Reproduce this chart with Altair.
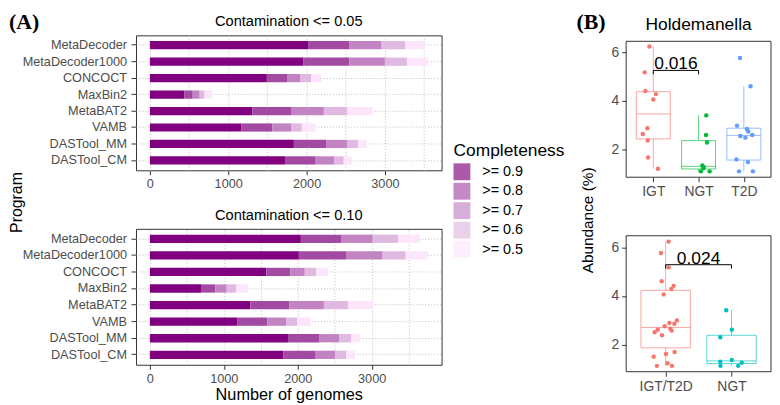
import json
import altair as alt
import pandas as pd

FONT = "Liberation Sans"
SERIF = "Liberation Serif"

# ---------------- Panel A data ----------------
programs = ["MetaDecoder", "MetaDecoder1000", "CONCOCT", "MaxBin2",
            "MetaBAT2", "VAMB", "DASTool_MM", "DASTool_CM"]
thresholds = [">= 0.9", ">= 0.8", ">= 0.7", ">= 0.6", ">= 0.5"]
threshold_colors = ["#800080", "#A24AA2", "#C283C2", "#DFB9DF", "#FCE6FC"]

# cumulative number of genomes with completeness >= threshold, contamination <= 0.05
c005_ge09 = [2019, 1956, 1493, 438, 1308, 1170, 1838, 1725]
c005_ge08 = [2549, 2545, 1759, 547, 1801, 1561, 2255, 2116]
c005_ge07 = [2957, 3000, 1923, 635, 2221, 1801, 2516, 2356]
c005_ge06 = [3260, 3281, 2057, 698, 2516, 1939, 2655, 2474]
c005_ge05 = [3517, 3546, 2188, 791, 2844, 2116, 2768, 2583]
# contamination <= 0.10
c010_ge09 = [2042, 2015, 1574, 691, 1360, 1186, 1868, 1806]
c010_ge08 = [2586, 2653, 1899, 887, 1886, 1587, 2296, 2243]
c010_ge07 = [3014, 3148, 2095, 1039, 2354, 1841, 2564, 2510]
c010_ge06 = [3357, 3460, 2251, 1164, 2679, 1993, 2724, 2653]
c010_ge05 = [3647, 3758, 2407, 1329, 3023, 2176, 2844, 2769]

panel_titles = ["Contamination <= 0.05", "Contamination <= 0.10"]
x_title = "Number of genomes"
y_title = "Program"
legend_title = "Completeness"
panel_tags = ["(A)", "(B)"]
x_ticks = [0, 500, 1000, 1500, 2000, 2500, 3000, 3500]

# ---------------- Panel B data ----------------
species = "Holdemanella"
abund_title = "Abundance (%)"
groups3 = ["IGT", "NGT", "T2D"]
colors3 = ["#F8766D", "#00BA38", "#619CFF"]
groups2 = ["IGT/T2D", "NGT"]
colors2 = ["#F8766D", "#00BFC4"]

igt_vals = [6.23, 5.17, 4.41, 4.28, 4.06, 2.88, 2.65, 2.38, 1.69, 1.23]
ngt_vals = [3.41, 2.61, 2.30, 1.36, 1.29, 1.25, 1.12, 1.12]
t2d_vals = [5.76, 4.60, 2.99, 2.85, 2.75, 2.57, 2.50, 2.61, 1.61, 1.50, 1.12, 1.12]

# horizontal jitter (fraction of category spacing)
igt_jit_top = [-0.087, -0.19, -0.175, 0.058, 0.0, -0.131, -0.233, -0.124, -0.116, 0.102]
ngt_jit_top = [0.17, 0.164, 0.186, 0.084, 0.113, 0.105, 0.244, 0.05]
t2d_jit_top = [-0.085, 0.148, -0.151, 0.068, 0.098, -0.076, 0.033, 0.186, -0.164, 0.09, -0.107, 0.199]
igt_jit_bot = [0.045, 0.045, 0.121, 0.086, -0.03, 0.056, 0.071, -0.056, 0.136, 0.03]
t2d_jit_bot = [-0.071, -0.061, 0.171, 0.132, -0.015, 0.091, -0.167, -0.121, 0.005, -0.182, -0.132, 0.095]
ngt_jit_bot = [-0.08, 0.005, -0.171, 0.005, -0.171, 0.156, -0.167, 0.101]

top_bracket = ["IGT", "NGT"]
top_bracket_y = [5.25, 5.09]
top_p = "0.016"
bot_bracket = ["IGT/T2D", "NGT"]
bot_bracket_y = [5.28, 5.12]
bot_p = "0.024"

top_ydomain = [0.88, 6.44]
bot_ydomain = [0.88, 6.47]

GRID = dict(gridColor="#BEBEBE", gridDash=[1, 2], gridWidth=1)
FRAME = "#333333"

A_W, A_H1, A_H2 = 308, 136, 137
B_W, B_H1, B_H2, B_OFF1, B_OFF2 = 146, 137, 137, 6, 7
ROW_GAP, COL_GAP = 52, 186
LEFT = -128     # left edge of the whole figure, relative to the plot area of panel A
TOP = -23.7     # top of the panel tags, relative to the plot area of panel A


def bar_rows(cums):
    rows = []
    for p_i, prog in enumerate(programs):
        prev = 0
        for t_i, thr in enumerate(thresholds):
            end = cums[t_i][p_i]
            rows.append({"program": prog, "thr": thr, "start": prev, "end": end})
            prev = end
    return pd.DataFrame(rows)


legend = alt.Legend(
    orient="none", legendX=320, legendY=108, title=legend_title,
    titleFontSize=17.5, titleFontWeight="normal", titleColor="black",
    titlePadding=3.5, labelFontSize=14.5, labelColor="black", labelOffset=12,
    symbolType="square", symbolSize=289, symbolStrokeWidth=0,
    rowPadding=2.6, padding=0, titleFont=FONT, labelFont=FONT,
)


def bar_panel(cums, title, first, height):
    df = bar_rows(cums)
    xmax = max(cums[-1])
    xs = alt.Scale(domain=[-0.05 * xmax, 1.05 * xmax], nice=False, zero=False)
    xkw = dict(
        values=x_ticks, format="d",
        labelExpr="datum.value % 1000 === 0 ? datum.label : ''",
        tickOpacity={"condition": {"test": "datum.value % 1000 !== 0", "value": 0}, "value": 1},
        grid=True, labelFontSize=12.8, tickSize=4.5, labelPadding=3, **GRID,
    )
    if first:
        xaxis = alt.Axis(title=None, **xkw)
    else:
        xaxis = alt.Axis(title=x_title, titleFontSize=16.4, titlePadding=2, **xkw)
    ykw = dict(grid=True, labelFontSize=12.8, tickSize=5, labelPadding=4.5, **GRID)
    if first:
        yaxis = alt.Axis(title=y_title, titleFontSize=16, titleX=LEFT + 16, titleY=168,
                         titleAngle=270, titleAlign="center", titleBaseline="bottom", **ykw)
    else:
        yaxis = alt.Axis(title=None, **ykw)
    return alt.Chart(df).mark_bar().encode(
        x=alt.X("start:Q", scale=xs, axis=xaxis),
        x2="end:Q",
        y=alt.Y("program:N", sort=programs,
                scale=alt.Scale(domain=programs, paddingInner=0.5, paddingOuter=0.35),
                axis=yaxis),
        color=alt.Color("thr:N", scale=alt.Scale(domain=thresholds, range=threshold_colors),
                        legend=legend),
    ).properties(
        width=A_W, height=height,
        title=alt.TitleParams(text=title, fontSize=14.7, anchor="middle", frame="group",
                              baseline="alphabetic", offset=0, dy=5.4, fontWeight="normal"),
    )


def box_panel(groups, colors, vals, jits, ydom, br_groups, br_y, br_label,
              height, top_off, title=None, ytitle=None, extra=None):
    n = len(groups)
    rows = []
    for i, (g, c) in enumerate(zip(groups, colors)):
        for v, j in zip(vals[i], jits[i]):
            rows.append({"g": g, "idx": i, "v": v, "j": j, "col": c})
    pts = pd.DataFrame(rows)
    total_h = height + top_off
    xs = alt.Scale(domain=[-0.6, n - 1 + 0.6], nice=False, zero=False)
    ys = alt.Scale(domain=ydom, nice=False, zero=False, range=[total_h, top_off])
    xaxis = alt.Axis(values=list(range(n)), labelExpr=f"{json.dumps(groups)}[round(datum.value)]",
                     title=None, labelFontSize=14, tickSize=4.5, labelPadding=3, grid=False)
    ykw = dict(values=[2, 4, 6], format="d", labelFontSize=14, tickSize=4.5,
               labelPadding=3, grid=False)
    if ytitle:
        yaxis = alt.Axis(title=ytitle, titleFontSize=15.5, titleX=-31, titleY=186,
                         titleAngle=270, titleAlign="center", titleBaseline="bottom", **ykw)
    else:
        yaxis = alt.Axis(title=None, **ykw)

    def X(f):
        return alt.X(f, scale=xs, axis=xaxis)

    def Y(f):
        return alt.Y(f, scale=ys, axis=yaxis)

    col = alt.Color("col:N", scale=None)
    base = alt.Chart(pts)
    stats = (base
             .transform_joinaggregate(q1="q1(v)", q3="q3(v)", med="median(v)",
                                      groupby=["g", "idx", "col"])
             .transform_calculate(lo="datum.q1 - 1.5*(datum.q3-datum.q1)",
                                  hi="datum.q3 + 1.5*(datum.q3-datum.q1)")
             .transform_filter("datum.v >= datum.lo && datum.v <= datum.hi")
             .transform_aggregate(wlo="min(v)", whi="max(v)", bq1="max(q1)", bq3="max(q3)",
                                  bmed="max(med)", groupby=["g", "idx", "col"])
             .transform_calculate(xl="datum.idx - 0.375", xr="datum.idx + 0.375"))
    op = 0.65
    wl = stats.mark_rule(strokeWidth=1, opacity=op).encode(x=X("idx:Q"), y=Y("wlo:Q"), y2="bq1:Q", color=col)
    wh = stats.mark_rule(strokeWidth=1, opacity=op).encode(x=X("idx:Q"), y=Y("bq3:Q"), y2="whi:Q", color=col)
    box = stats.mark_rect(fill="white", strokeWidth=1, strokeOpacity=op).encode(
        x=X("xl:Q"), x2="xr:Q", y=Y("bq1:Q"), y2="bq3:Q", stroke=alt.Stroke("col:N", scale=None))
    med = stats.mark_rule(strokeWidth=1, opacity=op).encode(x=X("xl:Q"), x2="xr:Q", y=Y("bmed:Q"), color=col)
    dots = base.transform_calculate(xj="datum.idx + datum.j").mark_circle(size=20, opacity=1).encode(
        x=X("xj:Q"), y=Y("v:Q"), color=col)
    bi = [groups.index(g) for g in br_groups]
    hl = alt.Chart(pd.DataFrame({"a": [bi[0]], "b": [bi[1]], "y": [br_y[0]]})).mark_rule(
        color="black", strokeWidth=1).encode(x=X("a:Q"), x2="b:Q", y=Y("y:Q"))
    vl = alt.Chart(pd.DataFrame({"a": bi, "y": [br_y[0]] * 2, "y2": [br_y[1]] * 2})).mark_rule(
        color="black", strokeWidth=1).encode(x=X("a:Q"), y=Y("y:Q"), y2="y2:Q")
    pt = alt.Chart(pd.DataFrame({"a": [sum(bi) / 2], "y": [br_y[0]], "label": [br_label]})).mark_text(
        fontSize=17.5, baseline="alphabetic", dy=-1, color="black").encode(
        x=X("a:Q"), y=Y("y:Q"), text="label:N")
    frame = alt.Chart(pd.DataFrame({"f": [0]})).mark_rect(
        filled=False, stroke=FRAME, strokeWidth=1).encode(
        x=alt.value(0), x2=alt.value(B_W), y=alt.value(top_off), y2=alt.value(total_h))
    layers = [wl, wh, box, med, dots, hl, vl, pt, frame]
    if extra:
        layers += extra
    props = dict(width=B_W, height=total_h, view=alt.ViewBackground(stroke="transparent"))
    if title:
        props["title"] = alt.TitleParams(text=title, fontSize=17.5, anchor="middle", frame="group",
                                         baseline="alphabetic", offset=0,
                                         dy=17.5 - (11.7 - top_off), fontWeight="normal")
    return alt.layer(*layers).properties(**props)


def tag_layer(label, x, y):
    return alt.Chart(pd.DataFrame({"label": [label]})).mark_text(
        font=SERIF, fontWeight="bold", fontSize=22, align="left", baseline="top",
        color="black").encode(x=alt.value(x), y=alt.value(y), text="label:N")


bar_top = bar_panel([c005_ge09, c005_ge08, c005_ge07, c005_ge06, c005_ge05], panel_titles[0], True, A_H1)
bar_bot = bar_panel([c010_ge09, c010_ge08, c010_ge07, c010_ge06, c010_ge05], panel_titles[1], False, A_H2)

box_top = box_panel(groups3, colors3, [igt_vals, ngt_vals, t2d_vals],
                    [igt_jit_top, ngt_jit_top, t2d_jit_top], top_ydomain,
                    top_bracket, top_bracket_y, top_p, B_H1, B_OFF1,
                    title=species, ytitle=abund_title)

bx = A_W + COL_GAP
by = max(A_H1, B_H1 + B_OFF1) + ROW_GAP
tags = [tag_layer(panel_tags[0], LEFT - bx, TOP - by),
        tag_layer(panel_tags[1], 444 - bx, TOP - by)]
box_bot = box_panel(groups2, colors2, [igt_vals + t2d_vals, ngt_vals],
                    [igt_jit_bot + t2d_jit_bot, ngt_jit_bot], bot_ydomain,
                    bot_bracket, bot_bracket_y, bot_p, B_H2, B_OFF2, extra=tags)

chart = alt.concat(
    bar_top, box_top, bar_bot, box_bot, columns=2, bounds="flush", align="none",
    spacing={"row": ROW_GAP, "column": COL_GAP},
).properties(
    padding={"left": 0, "top": 0, "right": 0, "bottom": 0}
).configure(font=FONT).configure_view(
    stroke=FRAME, strokeWidth=1
).configure_axis(
    labelFont=FONT, titleFont=FONT, labelColor="#4D4D4D", tickColor="#333333",
    tickWidth=1, domain=False, titleColor="black", titleFontWeight="normal"
).configure_title(font=FONT, color="black")

chart.save("out.html", embed_options={"renderer": "svg", "actions": False})
